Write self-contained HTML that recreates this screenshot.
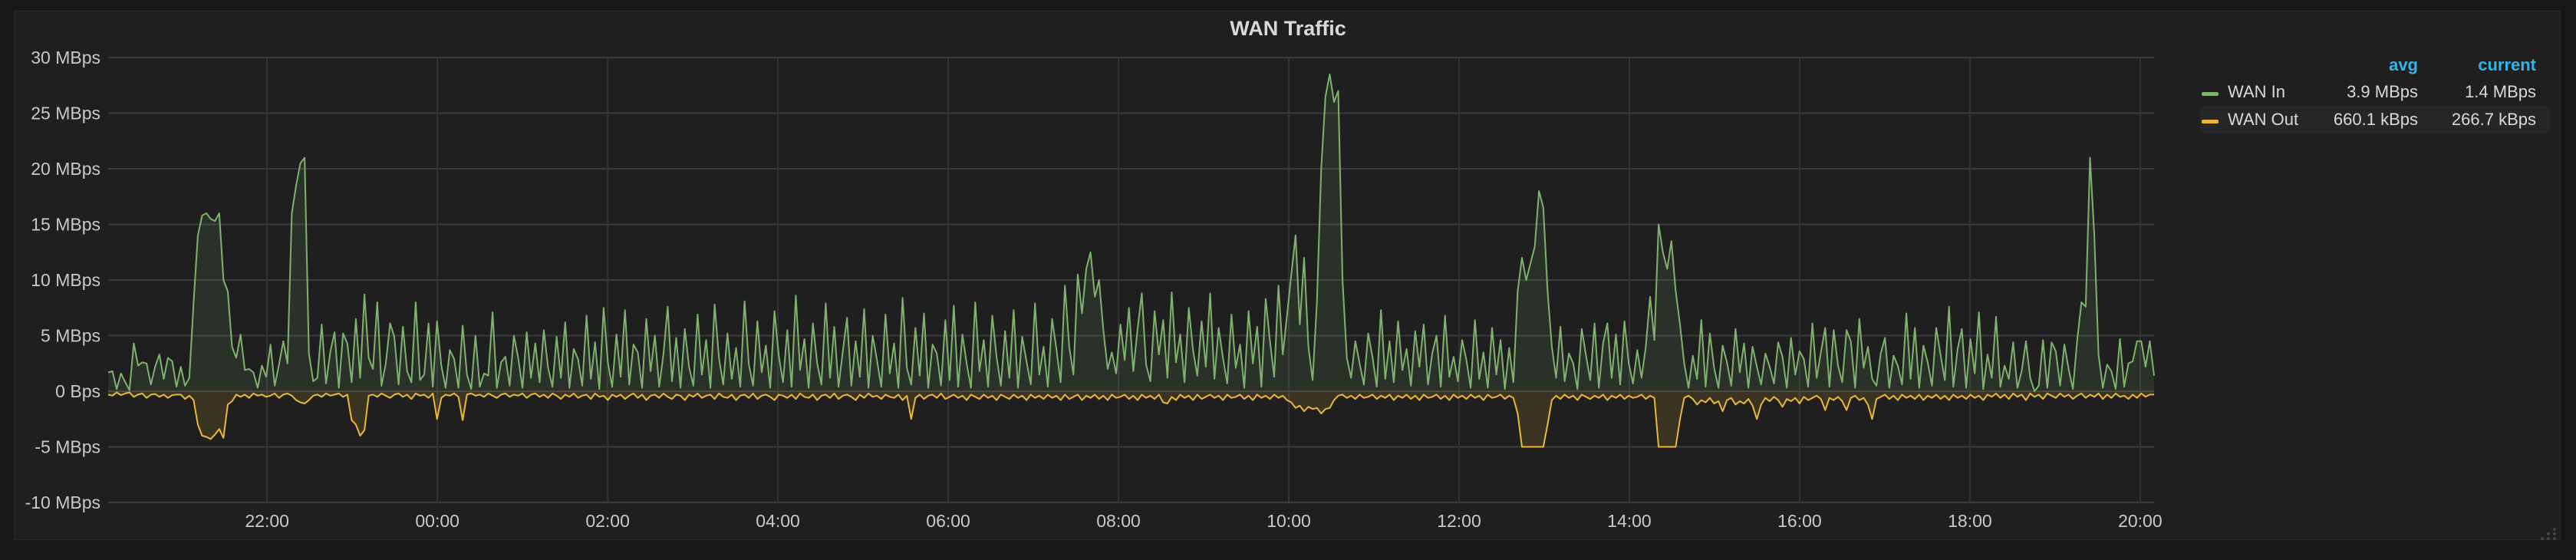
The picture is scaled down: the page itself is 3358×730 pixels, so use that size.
<!DOCTYPE html>
<html><head><meta charset="utf-8">
<style>
html,body{margin:0;padding:0;background:#161719;width:3358px;height:730px;overflow:hidden;font-family:"Liberation Sans",sans-serif;}
#panel{position:absolute;left:18px;top:14px;width:3318px;height:688px;background:#1f1f20;border:1px solid #2a2a2c;}
#title{position:absolute;left:0;width:100%;top:22px;text-align:center;color:#d8d9da;font-weight:bold;font-size:27px;}
svg{position:absolute;left:0;top:0;}
.leg{position:absolute;font-size:22px;color:#d8d9da;}
.hdr{color:#33b5e5;font-weight:bold;}
</style></head>
<body>
<div id="panel"></div>
<div id="title">WAN Traffic</div>
<svg id="chart" width="3358" height="730"></svg>
<div class="leg hdr" style="left:3060px;width:92px;top:72px;text-align:right">avg</div>
<div class="leg hdr" style="left:3186px;width:120px;top:72px;text-align:right">current</div>
<div style="position:absolute;left:2868px;top:138px;width:456px;height:36px;background:#262628"></div>
<div style="position:absolute;left:2870px;top:120px;width:22px;height:5px;background:#7eb26d;border-radius:2px"></div>
<div class="leg" style="left:2904px;top:107px">WAN In</div>
<div class="leg" style="left:3000px;width:152px;top:107px;text-align:right">3.9 MBps</div>
<div class="leg" style="left:3150px;width:156px;top:107px;text-align:right">1.4 MBps</div>
<div style="position:absolute;left:2870px;top:156px;width:22px;height:5px;background:#eab839;border-radius:2px"></div>
<div class="leg" style="left:2904px;top:143px">WAN Out</div>
<div class="leg" style="left:3000px;width:152px;top:143px;text-align:right">660.1 kBps</div>
<div class="leg" style="left:3150px;width:156px;top:143px;text-align:right">266.7 kBps</div>
<script>
const yTicks=[30,25,20,15,10,5,0,-5,-10];
const yTickLabels=["30 MBps","25 MBps","20 MBps","15 MBps","10 MBps","5 MBps","0 Bps","-5 MBps","-10 MBps"];
const xTickHours=[22,24,26,28,30,32,34,36,38,40,42,44];
const xTickLabels=["22:00","00:00","02:00","04:00","06:00","08:00","10:00","12:00","14:00","16:00","18:00","20:00"];
const startHour=20+8/60;
const stepMinutes=3;
const wanIn=[
1.7,1.8,0.2,1.6,0.8,0.1,4.3,2.3,2.6,2.5,0.6,2.2,3.3,1.1,3.0,2.7,0.4,2.2,0.5,1.2,
8,14,15.8,16,15.5,15.3,16,10,9,4,3,5.1,1.9,2,1.7,0.3,2.3,1.3,4.2,0.5,
2.4,4.5,2.5,16,18.5,20.5,21,3.4,0.9,1.2,6,0.7,3.5,5.3,0.3,5.2,4.3,0.8,6.5,1.2,
8.7,3,2,8,0.5,2.5,6.1,4.9,0.6,5.8,1.8,0.8,8,1,1.5,6.1,0.4,6.3,2.3,0.3,
3.7,2.9,0.3,5.9,1.5,0.2,5,0.4,1.6,1.4,7.1,0.3,2.6,3.1,0.5,5,3,0.3,5.3,1.2,
4.3,0.8,5.5,2.1,0.4,4.9,1.2,6.2,0.3,3.8,2.9,0.5,6.8,1.1,4.4,0.2,7.5,2.6,0.4,5.1,
1.3,7.3,0.6,4.2,3.5,0.3,6.5,1.8,5,0.4,3.3,7.6,0.9,4.8,0.3,5.6,2.2,0.5,6.9,1.5,
4.6,0.3,7.8,3,0.6,5.2,1.1,3.9,0.4,8.1,2.4,0.5,6.3,1.7,4.1,0.3,7.2,3.2,0.8,5.5,
0.4,8.6,1.9,4.7,0.3,6.1,2.5,0.6,7.9,1.2,5.8,0.4,3.6,6.6,0.5,4.5,1.3,7.4,0.3,5,
2.8,0.4,6.9,1.6,4.3,0.3,8.4,2.1,0.6,5.7,1.4,7,0.3,4.2,3.4,0.5,6.4,1,7.7,0.4,
5.1,2.5,0.3,8,1.8,4.6,0.4,6.8,3.1,0.5,5.4,1.2,7.3,0.3,4.9,2.7,0.6,7.9,1.5,4,
0.4,6.5,3.8,0.8,9.5,4,1.5,10.5,7,11,12.5,8.5,10,5.5,2,3.5,1.6,6,2.8,7.5,
1.8,5.6,8.8,2.4,0.9,7.2,3.3,6.4,1.2,8.9,2.6,5.1,0.8,7.5,3.7,1.4,6.3,2.2,8.8,1.1,
5.7,3,0.7,6.9,2.1,4.2,0.3,7.2,2.5,5.8,0.4,8.3,4.5,1.3,9.5,3.3,6.8,10.5,14,6,
12,4,1,8,20,26.5,28.5,26,27,10,3,1.2,4.5,2.5,0.6,5.2,3.1,0.4,7.3,1.1,
4.5,0.8,6.3,1.9,3.8,0.5,5.4,2.2,6,0.6,3.4,5,0.4,6.8,1.3,3.1,0.9,4.6,2.8,0.3,
6.4,1.1,3.5,0.3,5.7,1.5,4.6,0.2,3.9,0.8,9,12,10,11.5,13,18,16.5,9,4,1.2,
5.8,0.9,3.4,2.5,0.2,5.6,3.2,1,6.1,0.3,4.3,6.1,1.2,5.1,0.6,6.3,2.5,0.7,3.7,1.2,
4,8.5,4.6,15,12.5,11,13.5,9,6,2.5,0.3,3.2,1.1,6.4,0.4,5.2,2.1,0.3,4.1,2.6,
0.5,5.6,1.7,4.3,0.3,4,2.2,0.6,3.4,2.2,0.7,4.4,3.1,0.3,4.8,1.5,3.6,2.9,0.4,6.1,
1.2,3.5,5.7,0.4,5.5,2.3,0.8,5.5,4.5,0.3,6.5,2.1,4,1.1,0.5,3.4,4.8,0.3,3.2,2.3,
0.6,7,1.1,5.7,0.3,4.1,2.6,0.5,5.7,3.3,1,7.6,0.4,3.8,5.6,0.3,4.7,1.6,7.1,0.2,
3.3,1.2,6.7,0.4,2.3,1.1,4.4,0.3,1.8,4.5,1.2,0,0.5,4.6,0.3,4.4,3.6,0.5,4.2,2,
0.2,4.6,8,7.6,21,14,3.3,0.3,2.4,1.8,0.2,4.7,0.4,2.5,2.7,4.5,4.5,2.2,4.5,1.4];
const wanOut=[
-0.3,-0.4,-0.1,-0.35,-0.2,-0.1,-0.5,-0.3,-0.2,-0.6,-0.3,-0.25,-0.5,-0.3,-0.6,-0.35,-0.3,-0.3,-0.7,-0.4,
-0.8,-3,-4,-4.1,-4.3,-3.9,-3.4,-4.2,-1.2,-0.9,-0.3,-0.5,-0.3,-0.6,-0.2,-0.4,-0.3,-0.5,-0.4,-0.2,
-0.6,-0.3,-0.2,-0.4,-0.8,-1,-1.1,-0.8,-0.4,-0.3,-0.5,-0.2,-0.4,-0.3,-0.2,-0.5,-0.3,-2.6,-3,-4,
-3.5,-0.4,-0.3,-0.5,-0.2,-0.4,-0.6,-0.3,-0.2,-0.5,-0.3,-0.7,-0.2,-0.4,-0.3,-0.6,-0.2,-2.5,-0.6,-0.3,
-0.4,-0.2,-0.5,-2.6,-0.3,-0.2,-0.4,-0.3,-0.5,-0.2,-0.4,-0.6,-0.3,-0.2,-0.5,-0.3,-0.4,-0.2,-0.6,-0.3,
-0.2,-0.5,-0.3,-0.6,-0.2,-0.4,-0.7,-0.3,-0.5,-0.2,-0.6,-0.4,-0.3,-0.7,-0.2,-0.5,-0.4,-0.8,-0.3,-0.5,
-0.3,-0.7,-0.4,-0.2,-0.6,-0.3,-0.8,-0.4,-0.3,-0.6,-0.2,-0.5,-0.7,-0.3,-0.4,-0.8,-0.3,-0.5,-0.2,-0.6,
-0.4,-0.3,-0.7,-0.2,-0.5,-0.6,-0.3,-0.8,-0.4,-0.3,-0.6,-0.2,-0.7,-0.4,-0.3,-0.5,-0.8,-0.3,-0.4,-0.6,
-0.3,-0.7,-0.2,-0.5,-0.6,-0.3,-0.8,-0.4,-0.3,-0.6,-0.2,-0.7,-0.4,-0.3,-0.5,-0.8,-0.3,-0.6,-0.2,-0.5,
-0.4,-0.7,-0.3,-0.5,-0.6,-0.3,-0.8,-0.4,-2.5,-0.6,-0.3,-0.7,-0.4,-0.3,-0.6,-0.2,-0.7,-0.5,-0.3,-0.6,
-0.4,-0.8,-0.3,-0.5,-0.7,-0.3,-0.6,-0.4,-0.8,-0.3,-0.5,-0.7,-0.3,-0.6,-0.4,-0.8,-0.3,-0.6,-0.4,-0.7,
-0.3,-0.6,-0.4,-0.8,-0.3,-0.7,-0.5,-0.3,-0.8,-0.4,-0.6,-0.3,-0.7,-0.4,-0.8,-0.3,-0.6,-0.5,-0.3,-0.7,
-0.4,-0.8,-0.3,-0.6,-0.4,-0.7,-0.3,-1,-1.1,-0.5,-0.8,-0.3,-0.6,-0.4,-0.8,-0.3,-0.7,-0.5,-0.3,-0.6,
-0.4,-0.8,-0.3,-0.6,-0.5,-0.3,-0.7,-0.4,-0.8,-0.3,-0.6,-0.4,-0.7,-0.3,-0.6,-0.4,-0.8,-1,-1.5,-1.3,
-1.8,-1.4,-1.6,-1.5,-2,-1.6,-1.5,-0.8,-0.4,-0.3,-0.6,-0.4,-0.7,-0.3,-0.6,-0.5,-0.3,-0.7,-0.4,-0.6,
-0.3,-0.8,-0.4,-0.6,-0.3,-0.7,-0.4,-0.8,-0.3,-0.6,-0.5,-0.3,-0.7,-0.4,-0.8,-0.3,-0.6,-0.4,-0.7,-0.3,
-0.6,-0.4,-0.8,-0.3,-0.6,-0.5,-0.3,-0.7,-0.4,-0.6,-2,-5,-5,-5,-5,-5,-5,-3,-0.8,-0.4,
-0.7,-0.3,-0.6,-0.4,-0.8,-0.3,-0.5,-0.7,-0.4,-0.6,-0.3,-0.8,-0.4,-0.6,-0.3,-0.7,-0.4,-0.6,-0.5,-0.3,
-0.7,-0.4,-0.6,-5,-5,-5,-5,-5,-2.5,-0.6,-0.4,-0.7,-1.2,-0.8,-1,-0.6,-1.1,-0.9,-1.8,-0.8,
-0.6,-1.2,-0.9,-1.1,-0.7,-1.3,-2.5,-1.2,-0.6,-0.9,-0.5,-0.8,-1.4,-0.7,-0.9,-0.6,-1.1,-0.5,-0.8,-0.6,
-0.4,-0.7,-1.7,-0.6,-0.8,-0.5,-0.9,-1.7,-0.6,-0.4,-0.8,-0.6,-1.2,-2.5,-0.7,-0.5,-0.3,-0.7,-0.4,-0.8,
-0.3,-0.6,-0.4,-0.7,-0.3,-0.8,-0.4,-0.6,-0.3,-0.7,-0.4,-0.8,-0.3,-0.6,-0.4,-0.7,-0.3,-0.6,-0.4,-0.8,
-0.3,-0.5,-0.2,-0.6,-0.3,-0.7,-0.2,-0.5,-0.3,-0.8,-0.2,-0.5,-0.3,-0.7,-0.2,-0.4,-0.6,-0.2,-0.5,-0.3,
-0.7,-0.4,-0.2,-0.6,-0.3,-0.5,-0.2,-0.7,-0.3,-0.6,-0.2,-0.5,-0.4,-0.7,-0.3,-0.6,-0.2,-0.5,-0.3,-0.3];

const NS="http://www.w3.org/2000/svg";
const svg=document.getElementById('chart');
const L=141,R=2808,T=75,B=655,yMax=30,yMin=-10,hoursSpan=24.03;
function yS(v){return T+(yMax-v)/(yMax-yMin)*(B-T);}
function xS(h){return L+(h-startHour)/hoursSpan*(R-L);}
function mk(tag,attrs){const e=document.createElementNS(NS,tag);for(const k in attrs)e.setAttribute(k,attrs[k]);svg.appendChild(e);return e;}

yTicks.forEach((v,i)=>{
  const g=mk('line',{x1:L,x2:R,y1:yS(v),y2:yS(v),stroke:'#3b3b3d','stroke-width':2});
  
  
  const t=mk('text',{x:131,y:yS(v)+8,'text-anchor':'end',fill:'#c8c9ca','font-size':23,'font-family':'Liberation Sans, sans-serif'});
  t.textContent=yTickLabels[i];
  
  
});
xTickHours.forEach((h,i)=>{
  const x=xS(h);
  const g=mk('line',{x1:x,x2:x,y1:T,y2:B,stroke:'#343436','stroke-width':2});
  
  
  const t=mk('text',{x:x,y:687,'text-anchor':'middle',fill:'#c8c9ca','font-size':23,'font-family':'Liberation Sans, sans-serif'});
  t.textContent=xTickLabels[i];
  
  
});
function series(vals,color,fill,name){
  const n=vals.length;
  let d='';
  vals.forEach((v,i)=>{const x=xS(startHour+i*stepMinutes/60*(hoursSpan/((n-1)*stepMinutes/60)));d+=(i?'L':'M')+x.toFixed(1)+','+yS(v).toFixed(1);});
  const x0=xS(startHour),x1=xS(startHour+hoursSpan);
  const a=mk('path',{d:d+'L'+x1+','+yS(0)+'L'+x0+','+yS(0)+'Z',fill:fill,stroke:'none'});
  
  
  const p=mk('path',{d:d,fill:'none',stroke:color,'stroke-width':2,'stroke-linejoin':'round'});
  
  
}
series(wanIn,'#7eb26d','rgba(126,178,109,0.12)','wan-in');
series(wanOut,'#eab839','rgba(234,184,57,0.14)','wan-out');
[[3330,690],[3322,696],[3330,696],[3314,702],[3322,702],[3330,702]].forEach(p=>{
  const c=mk('circle',{cx:p[0],cy:p[1],r:2,fill:'#444'});
  
  
});
</script>
</body></html>
